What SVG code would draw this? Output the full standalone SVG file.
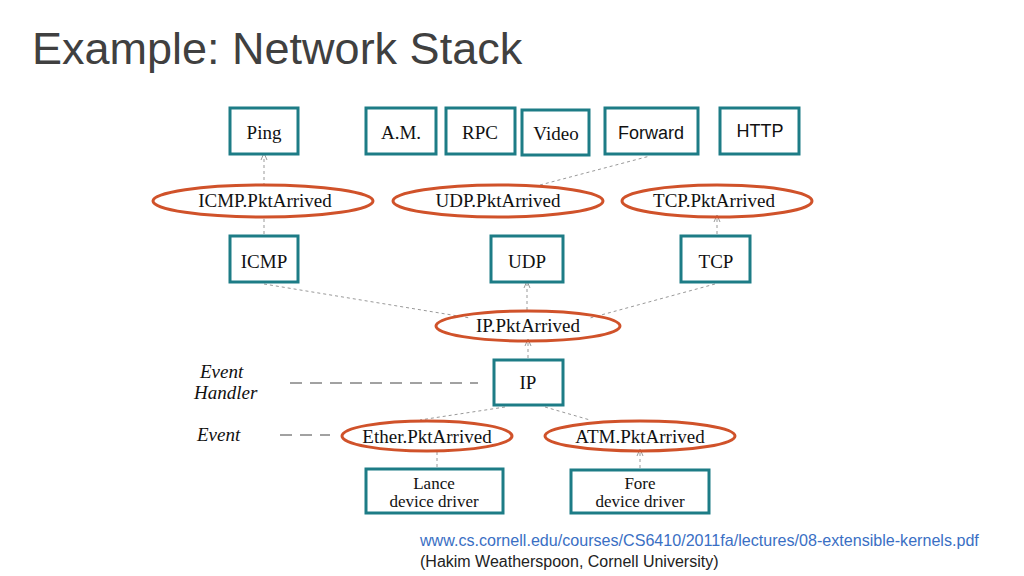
<svg xmlns="http://www.w3.org/2000/svg" width="1024" height="576" viewBox="0 0 1024 576">
<style>
.b{fill:#fff;stroke:#1d7c86;stroke-width:3}
.e{fill:none;stroke:#d0522a;stroke-width:3}
.t{font-family:"Liberation Serif",serif;font-size:19px;fill:#111;text-anchor:middle}
.dd{font-family:"Liberation Serif",serif;font-size:17px;fill:#111;text-anchor:middle}
.s{font-family:"Liberation Sans",sans-serif;font-size:18px;fill:#111;text-anchor:middle}
.c{stroke:#999;stroke-width:1;stroke-dasharray:3 3;fill:none}
.d{stroke:#444;stroke-width:1;stroke-dasharray:12 8;fill:none}
.l{font-family:"Liberation Serif",serif;font-style:italic;font-size:19px;fill:#111}
</style>
<defs><marker id="a" markerWidth="8" markerHeight="8" refX="4" refY="4" orient="auto"><path d="M0,1 L7,4 L0,7" fill="none" stroke="#999"/></marker></defs>
<rect width="1024" height="576" fill="#fff"/>
<text x="32" y="64" font-family="Liberation Sans,sans-serif" font-size="45" fill="#404040">Example: Network Stack</text>
<g id="connectors">
<path class="c" d="M264,186 V156" marker-end="url(#a)"/>
<path class="c" d="M264,234 V218"/>
<path class="c" d="M540,185 L650,156"/>
<path class="c" d="M717,234 V218" marker-end="url(#a)"/>
<path class="c" d="M527,310 V284" marker-end="url(#a)"/>
<path class="c" d="M264,284 L470,318"/>
<path class="c" d="M715,284 L590,318"/>
<path class="c" d="M528,358 V342" marker-end="url(#a)"/>
<path class="c" d="M505,407 L420,420"/>
<path class="c" d="M545,407 L590,420"/>
<path class="c" d="M437,467 V452"/>
<path class="c" d="M640,468 V452" marker-end="url(#a)"/>
<path class="d" d="M290,383 H478"/>
<path class="d" d="M280,435 H330"/>
</g>
<g id="ping"><rect class="b" x="230" y="108" width="68" height="46"/><text class="t" x="264" y="139">Ping</text></g>
<g id="am"><rect class="b" x="366" y="108" width="70" height="46"/><text class="t" x="401" y="139">A.M.</text></g>
<g id="rpc"><rect class="b" x="446" y="108" width="69" height="46"/><text class="t" x="480" y="139">RPC</text></g>
<g id="video"><rect class="b" x="522" y="110" width="67" height="45"/><text class="t" x="556" y="140">Video</text></g>
<g id="forward"><rect class="b" x="605" y="108" width="93" height="46"/><text class="s" x="651" y="139">Forward</text></g>
<g id="http"><rect class="b" x="720" y="108" width="79" height="46"/><text class="s" x="760" y="137">HTTP</text></g>
<g id="icmpe"><ellipse class="e" cx="263" cy="201" rx="110" ry="16"/><text class="t" x="265" y="207">ICMP.PktArrived</text></g>
<g id="udpe"><ellipse class="e" cx="498" cy="201" rx="105" ry="16"/><text class="t" x="498" y="207">UDP.PktArrived</text></g>
<g id="tcpe"><ellipse class="e" cx="717" cy="201" rx="95" ry="16"/><text class="t" x="714" y="207">TCP.PktArrived</text></g>
<g id="icmp"><rect class="b" x="230" y="236" width="68" height="46"/><text class="t" x="264" y="268">ICMP</text></g>
<g id="udp"><rect class="b" x="491" y="236" width="72" height="46"/><text class="t" x="527" y="268">UDP</text></g>
<g id="tcp"><rect class="b" x="681" y="236" width="69" height="46"/><text class="t" x="716" y="268">TCP</text></g>
<g id="ipe"><ellipse class="e" cx="528" cy="326" rx="92" ry="15"/><text class="t" x="528" y="332">IP.PktArrived</text></g>
<g id="ip"><rect class="b" x="494" y="360" width="69" height="45"/><text class="t" x="528" y="389">IP</text></g>
<g id="ethere"><ellipse class="e" cx="427" cy="436" rx="85" ry="15"/><text class="t" x="427" y="443">Ether.PktArrived</text></g>
<g id="atme"><ellipse class="e" cx="640" cy="436" rx="95" ry="15"/><text class="t" x="640" y="443">ATM.PktArrived</text></g>
<g id="lance"><rect class="b" x="366" y="469" width="137" height="44"/><text class="dd" x="434" y="489">Lance</text><text class="dd" x="434" y="507">device driver</text></g>
<g id="fore"><rect class="b" x="571" y="470" width="138" height="43"/><text class="dd" x="640" y="489">Fore</text><text class="dd" x="640" y="507">device driver</text></g>
<text class="l" x="200" y="378">Event</text>
<text class="l" x="194" y="399">Handler</text>
<text class="l" x="197" y="441">Event</text>
<text x="420" y="546" font-family="Liberation Sans,sans-serif" font-size="16.1" fill="#3a6fc4">www.cs.cornell.edu/courses/CS6410/2011fa/lectures/08-extensible-kernels.pdf</text>
<text x="420" y="567" font-family="Liberation Sans,sans-serif" font-size="16" fill="#222">(Hakim Weatherspoon, Cornell University)</text>
</svg>
